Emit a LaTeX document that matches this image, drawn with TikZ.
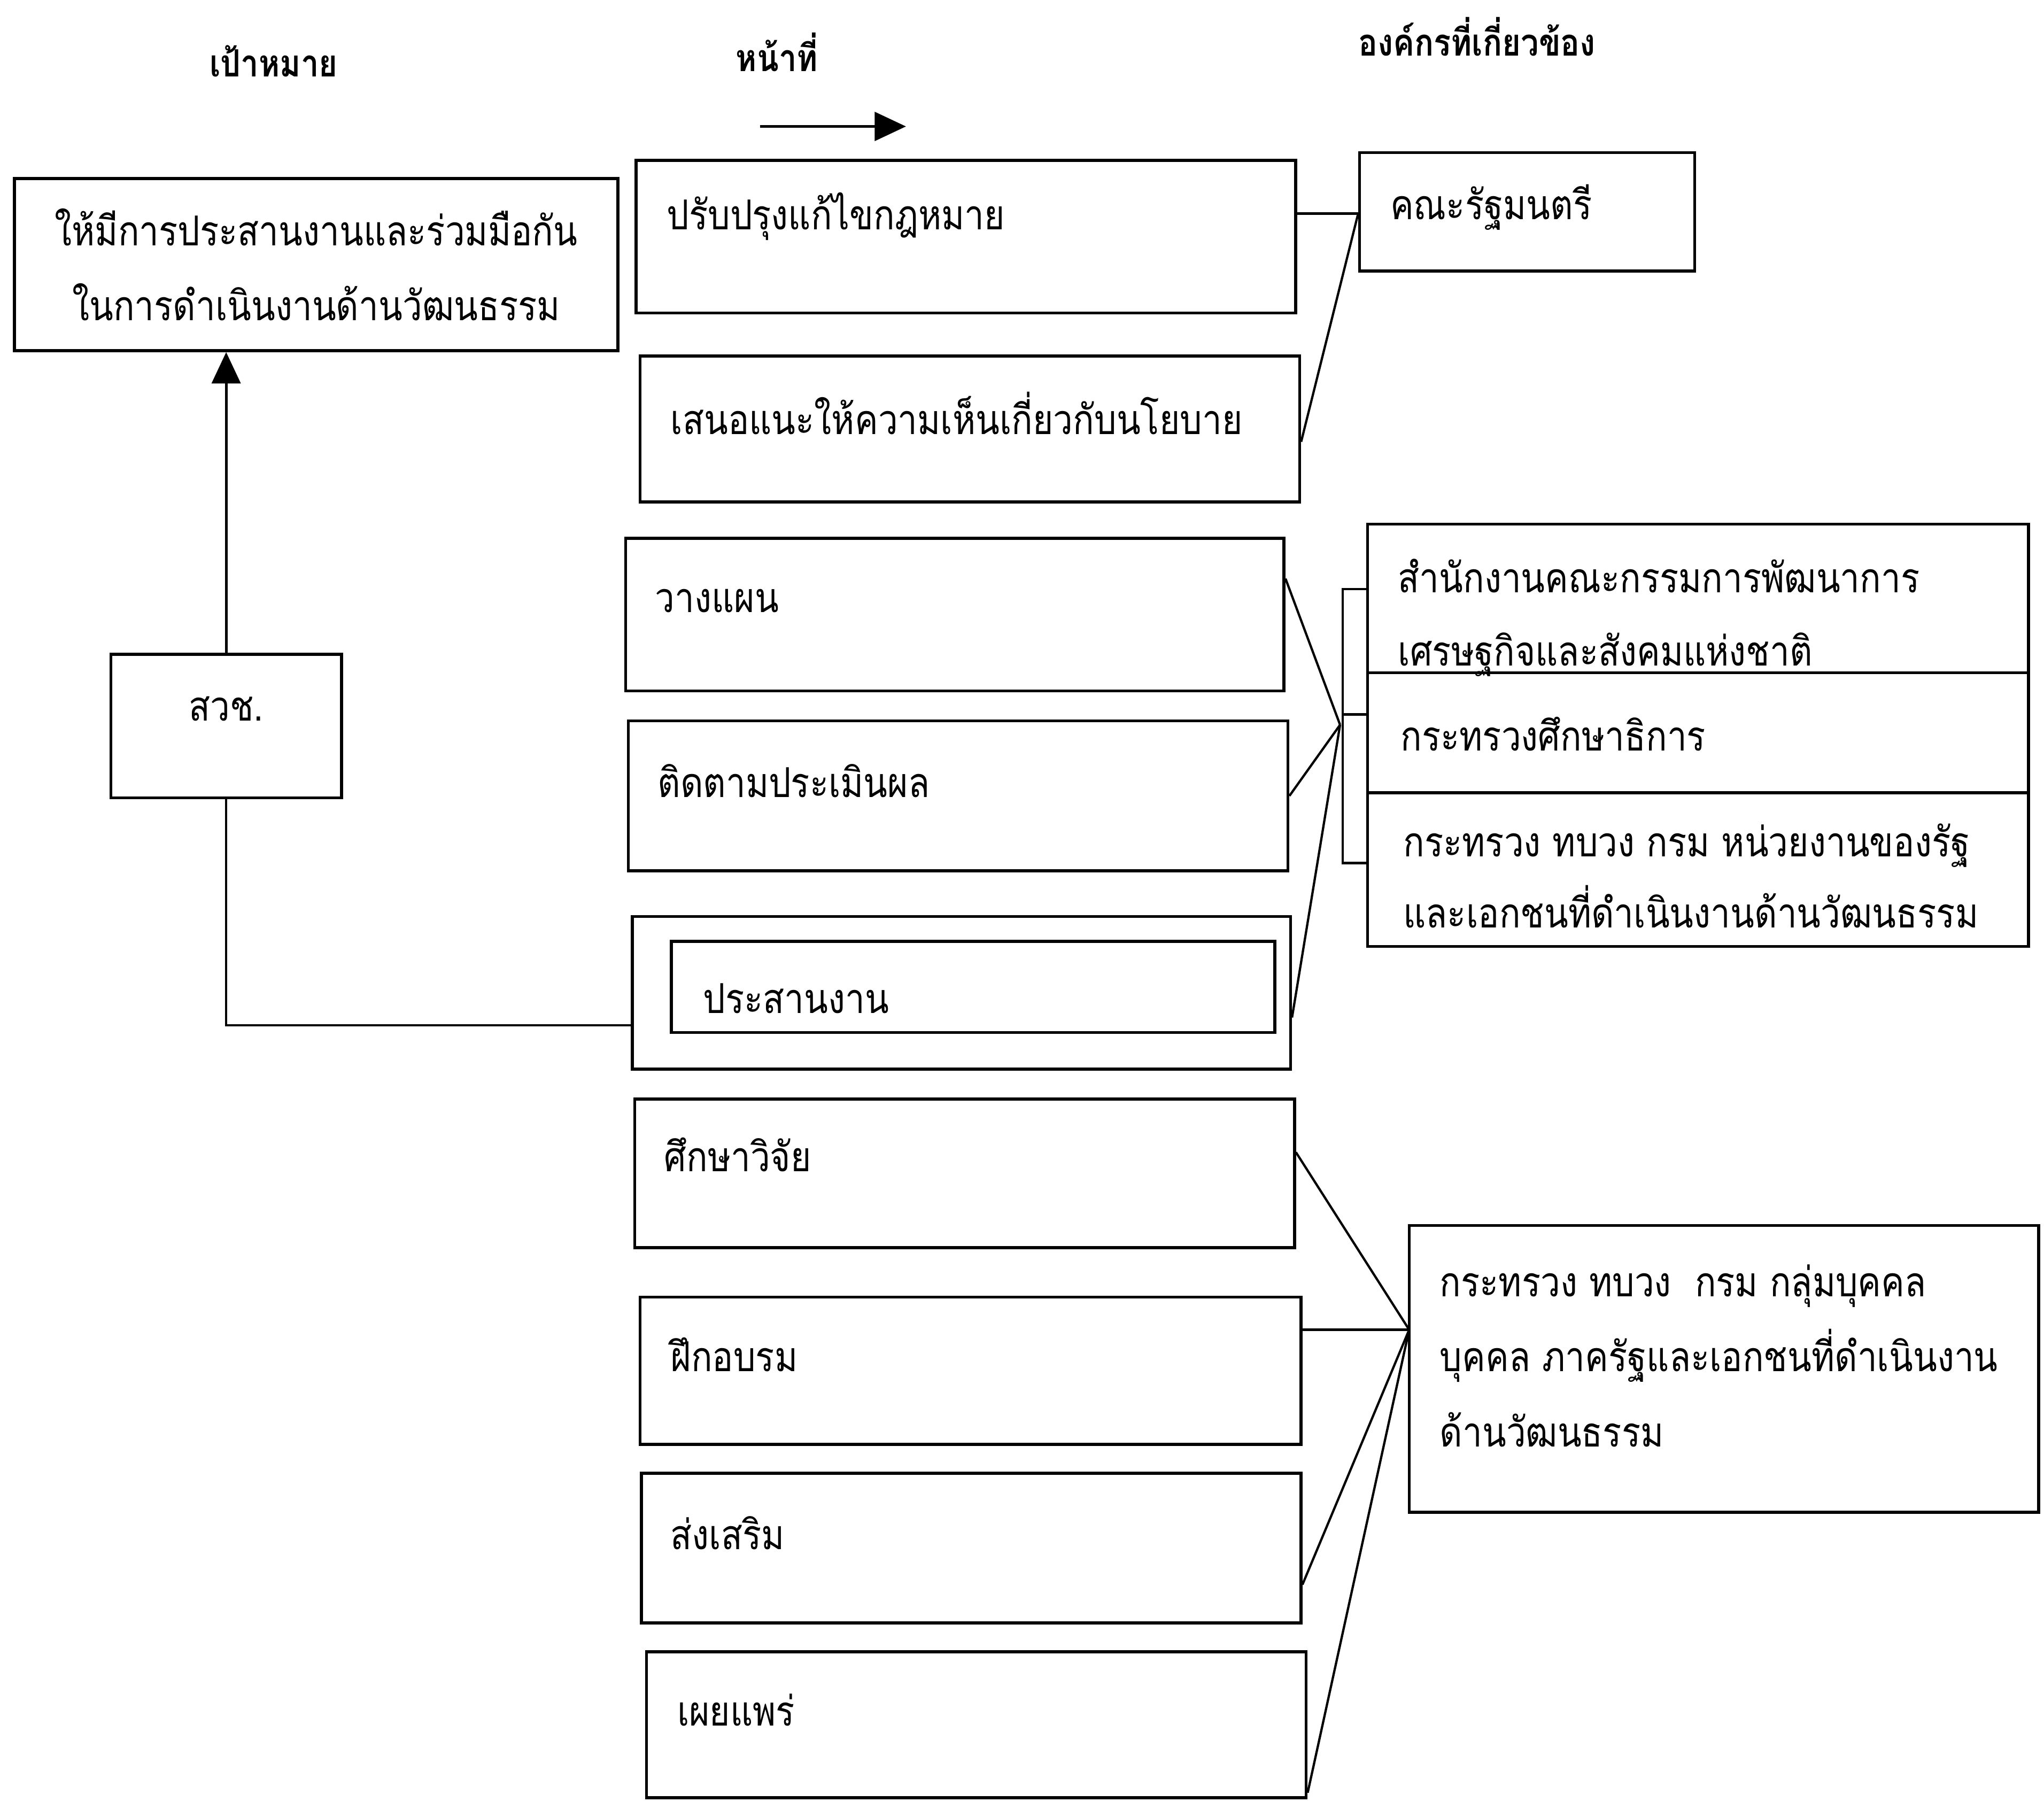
\documentclass[tikz,border=0pt]{standalone}
\usepackage{fontspec}
\newfontfamily\thaifont[Script=Thai,FakeStretch=0.85]{Loma}
\usetikzlibrary{arrows.meta,calc,fit}

\begin{document}
\begin{tikzpicture}[x=0.1mm, y=-0.1mm,
		box/.style={draw, line width=0.65pt, inner sep=0pt},
		txt/.style={anchor=west, inner sep=0pt, align=left, font=\thaifont\fontsize{9}{16.4}\selectfont},
		head/.style={inner sep=0pt, font=\thaifont\bfseries\fontsize{8.2}{10}\selectfont},
		line/.style={line width=0.5pt},
		arrow/.style={line width=0.6pt, -{Triangle[length=2.4mm, width=2.2mm]}}]
		\useasboundingbox (0,0) rectangle (1568,1382);
		
		% Rubriker
		\node[head] (hgoal) at (210,47) {เป้าหมาย};
		\node[head] (hduty) at (596,40) {หน้าที่};
		\node[head] (horg) at (1133,28) {องค์กรที่เกี่ยวข้อง};
		\coordinate (aS) at (583,97);
		\coordinate (aE) at (695,97);
		\draw[arrow] (aS) -- (aE);
		
		% Vänster kolumn
		\node[box, fit={(11,137) (474,269)}] (goal) {};
		\node[txt, anchor=center, align=center] (goalt) at (goal.center) {ให้มีการประสานงานและร่วมมือกัน\\ในการดำเนินงานด้านวัฒนธรรม};
		\node[box, fit={(85,502) (262,612)}] (onac) {};
		\node[txt, anchor=center] (onact) at ($(onac.north)+(0,43)$) {สวช.};
		
		% Mittenkolumn
		\node[box, fit={(488,123) (994,240)}] (law) {};
		\node[box, fit={(491,273) (997,385)}] (pol) {};
		\node[box, fit={(480,413) (985,530)}] (plan) {};
		\node[box, fit={(482,553) (988,668)}] (eval) {};
		\node[box, fit={(485,703) (990,820)}] (coord) {};
		\node[box, fit={(515,722) (978,792)}] (coordin) {};
		\node[box, fit={(487,843) (993,957)}] (study) {};
		\node[box, fit={(491,995) (998,1108)}] (train) {};
		\node[box, fit={(492,1130) (998,1245)}] (prom) {};
		\node[box, fit={(496,1267) (1002,1379)}] (pub) {};
		
		\node[txt] (lawt) at ($(law.north west)+(24,44)$) {ปรับปรุงแก้ไขกฎหมาย};
		\node[txt] (polt) at ($(pol.north west)+(24,45)$) {เสนอแนะให้ความเห็นเกี่ยวกับนโยบาย};
		\node[txt] (plant) at ($(plan.north west)+(23,49)$) {วางแผน};
		\node[txt] (evalt) at ($(eval.north west)+(23,47)$) {ติดตามประเมินผล};
		\node[txt] (coordt) at ($(coordin.west)+(25,9)$) {ประสานงาน};
		\node[txt] (studyt) at ($(study.north west)+(23,44)$) {ศึกษาวิจัย};
		\node[txt] (traint) at ($(train.north west)+(24,45)$) {ฝึกอบรม};
		\node[txt] (promt) at ($(prom.north west)+(23,47)$) {ส่งเสริม};
		\node[txt] (pubt) at ($(pub.north west)+(24,46)$) {เผยแพร่};
		
		% Höger kolumn
		\node[box, fit={(1043,117) (1300,208)}] (cab) {};
		\node[txt] (cabt) at ($(cab.north west)+(24,43)$) {คณะรัฐมนตรี};
		\node[box, fit={(1049,402) (1556,516)}] (nesdb) {};
		\node[box, fit={(1049,516) (1556,608)}] (moe) {};
		\node[box, fit={(1049,608) (1556,726)}] (orgs) {};
		\node[txt, font=\thaifont\fontsize{9}{15.9}\selectfont] (nesdbt) at ($(nesdb.north west)+(24,73)$) {สำนักงานคณะกรรมการพัฒนาการ\\เศรษฐกิจและสังคมแห่งชาติ};
		\node[txt] (moet) at ($(moe.north west)+(26,48)$) {กระทรวงศึกษาธิการ};
		\node[txt, font=\thaifont\fontsize{9}{15.6}\selectfont] (orgst) at ($(orgs.north west)+(28,65)$) {กระทรวง ทบวง กรม หน่วยงานของรัฐ\\และเอกชนที่ดำเนินงานด้านวัฒนธรรม};
		\node[box, fit={(1081,940) (1564,1160)}] (res) {};
		\node[txt] (rest) at ($(res.north west)+(24,101)$) {กระทรวง ทบวง\ \ กรม กลุ่มบุคคล\\บุคคล ภาครัฐและเอกชนที่ดำเนินงาน\\ด้านวัฒนธรรม};
		
		% Förbindelser
		\draw[arrow] (onac.north) -- (onac.north |- goal.south);
		\draw[line] (onac.south) |- ($(coord.west)+(0,25)$);
		
		\draw[line] ($(law.north east)+(0,42)$) -- ($(cab.north west)+(0,48)$);
		\draw[line] ($(pol.north east)+(0,67)$) -- ($(cab.north west)+(0,48)$);
		
		\coordinate (hub) at (1028,556);
		\coordinate (brT) at (1030,452);
		\coordinate (brB) at (1030,662);
		\draw[line] (nesdb.west |- brT) -- (brT) -- (brB) -- (orgs.west |- brB);
		\draw[line] (brT |- 0,548) -- (moe.west |- 0,548);
		\draw[line] ($(plan.north east)+(0,32)$) -- (hub);
		\draw[line] (eval.east) -- (hub);
		\draw[line] ($(coord.east)+(0,19)$) -- (hub);
		
		\coordinate (hub2) at (1081,1020);
		\draw[line] ($(study.north east)+(0,42)$) -- (hub2);
		\draw[line] (train.east |- hub2) -- (hub2);
		\draw[line] ($(prom.east)+(0,28)$) -- (hub2);
		\draw[line] ($(pub.south east)+(0,-5)$) -- (hub2);
\end{tikzpicture}
\end{document}
